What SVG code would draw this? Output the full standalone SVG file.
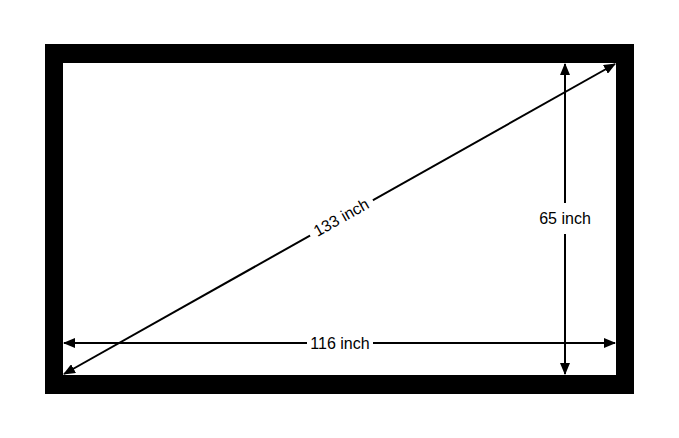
<svg xmlns="http://www.w3.org/2000/svg" width="679" height="438" viewBox="0 0 679 438">
<defs>
<style>
.ln{stroke:#000;stroke-width:2;fill:none}
.lbl{font-family:"Liberation Sans",Arial,sans-serif;font-size:16px;fill:#000;text-anchor:middle}
.gap{fill:#fff}
</style>
<marker id="ah" viewBox="0 0 12 10" refX="11" refY="5" markerWidth="12" markerHeight="10" markerUnits="userSpaceOnUse" orient="auto-start-reverse">
<path d="M0,0 L12,5 L0,10 z" fill="#000"/>
</marker>
</defs>
<rect width="679" height="438" fill="#fff"/>
<g id="screen">
<rect x="45" y="44" width="589" height="350" fill="#000"/>
<rect x="63" y="63" width="553" height="312" fill="#fff"/>
</g>
<g id="connectors">
<line class="ln" x1="64" y1="343" x2="615" y2="343" marker-start="url(#ah)" marker-end="url(#ah)"/>
<line class="ln" x1="565" y1="64" x2="565" y2="374" marker-start="url(#ah)" marker-end="url(#ah)"/>
<line class="ln" x1="64" y1="374" x2="615" y2="64" marker-start="url(#ah)" marker-end="url(#ah)"/>
</g>
<g id="label-width">
<rect class="gap" x="307" y="334" width="66" height="18"/>
<text class="lbl" x="340" y="349">116 inch</text>
</g>
<g id="label-height">
<rect class="gap" x="536" y="203" width="58" height="31"/>
<text class="lbl" x="565" y="224">65 inch</text>
</g>
<g id="label-diagonal" transform="translate(341,217) rotate(-29.4)">
<rect class="gap" x="-36" y="-10" width="72" height="20"/>
<text class="lbl" x="0" y="6">133 inch</text>
</g>
</svg>
